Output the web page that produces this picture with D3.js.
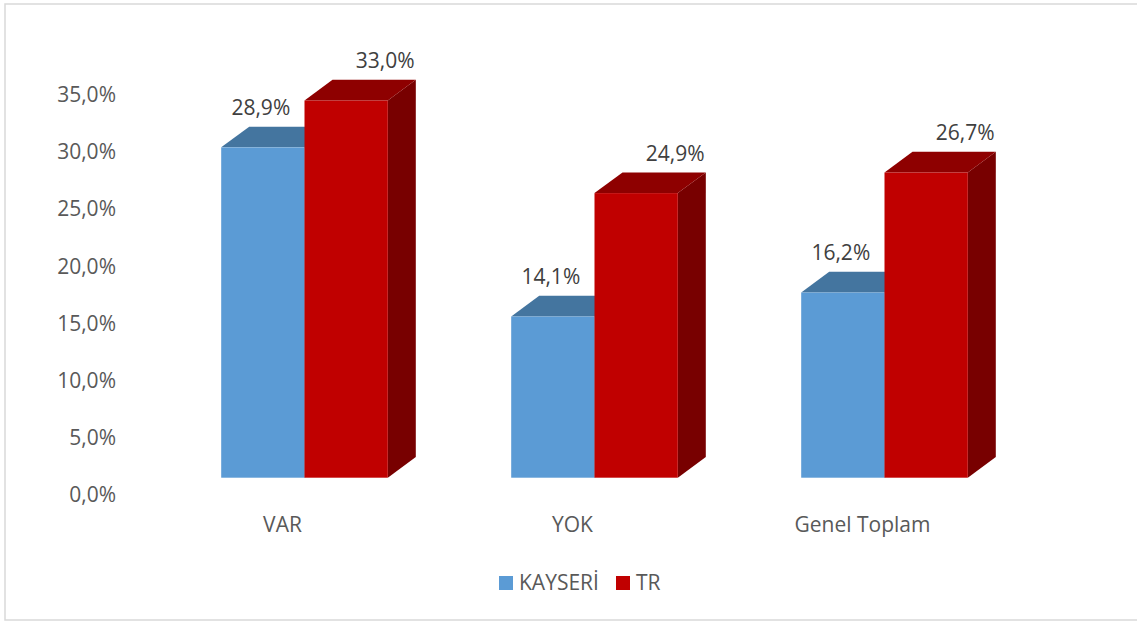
<!DOCTYPE html>
<html>
  <head>
    <meta charset="utf-8">
    <title>KAYSERİ - TR</title>
    <script src="https://d3js.org/d3.v7.min.js"></script>
    <style>
      body { margin: 0; background: #fff; }
      text { font-family: "Open Sans", sans-serif; fill: #595959; }
    </style>
  </head>
  <body>
    <div id="chart"></div>
    <script>
      // data
      var categories = ["VAR", "YOK", "Genel Toplam"];
      var series = ["KAYSERİ", "TR"];
      var kayseri = [28.9, 14.1, 16.2];
      var tr = [33.0, 24.9, 26.7];
      var yTicks = [0, 5, 10, 15, 20, 25, 30, 35];

      var width = 1137, height = 624;
      var barW = 83.3;           // front face width
      var depthX = 28, depthY = -20.7;  // 3d offset of the back face
      var fontSize = "21px";

      // colours: front, top, side
      var colors = {
        "KAYSERİ": ["#5b9bd5", "#44759f", "#3a6590"],
        "TR": ["#c00000", "#8e0000", "#780000"]
      };

      var svg = d3.select("#chart").append("svg")
        .attr("width", width)
        .attr("height", height);

      // chart border
      svg.append("rect")
        .attr("x", 5).attr("y", 4)
        .attr("width", 1133).attr("height", 616)
        .attr("fill", "none")
        .attr("stroke", "#d9d9d9")
        .attr("stroke-width", 1.5);

      var x0 = d3.scaleBand()
        .domain(categories)
        .range([159.5, 1029.5]);

      var x1 = d3.scaleBand()
        .domain(series)
        .range([0, 2 * barW]);

      var y = d3.scaleLinear()
        .domain([0, 35])
        .range([477.7, 477.7 - 35 * 11.43]);

      // y axis labels (excel puts them on the back wall, a bit lower)
      var yAxis = d3.axisLeft(y)
        .tickValues(yTicks)
        .tickSize(0)
        .tickPadding(0)
        .tickFormat(function(d) { return d.toFixed(1).replace(".", ",") + "%"; });

      var gy = svg.append("g")
        .attr("transform", "translate(116, 17.3)")
        .call(yAxis);
      gy.select(".domain").remove();
      gy.selectAll("text")
        .style("font-size", fontSize)
        .style("font-family", "'Open Sans', sans-serif")
        .attr("fill", "#595959");

      // category labels
      svg.selectAll(".cat")
        .data(categories)
        .enter()
        .append("text")
        .attr("class", "cat")
        .attr("x", function(d) { return x0(d) + x0.bandwidth() / 2 - 22; })
        .attr("y", 525)
        .attr("dy", "0.35em")
        .attr("text-anchor", "middle")
        .style("font-size", fontSize)
        .text(function(d) { return d; });

      var rows = [];
      categories.forEach(function(c, i) {
        rows.push({ cat: c, s: "KAYSERİ", v: kayseri[i] });
        rows.push({ cat: c, s: "TR", v: tr[i] });
      });

      function left(d) {
        return x0(d.cat) + (x0.bandwidth() - 2 * barW) / 2 + x1(d.s);
      }

      var bars = svg.selectAll(".bar")
        .data(rows)
        .enter()
        .append("g")
        .attr("class", "bar");

      // right side
      bars.append("path")
        .attr("fill", function(d) { return colors[d.s][2]; })
        .attr("d", function(d) {
          var x = left(d) + barW, yt = y(d.v), yb = y(0);
          return "M" + x + "," + yt + "L" + (x + depthX) + "," + (yt + depthY) +
            "L" + (x + depthX) + "," + (yb + depthY) + "L" + x + "," + yb + "Z";
        });

      // top
      bars.append("path")
        .attr("fill", function(d) { return colors[d.s][1]; })
        .attr("d", function(d) {
          var x = left(d), yt = y(d.v);
          return "M" + x + "," + yt + "L" + (x + depthX) + "," + (yt + depthY) +
            "L" + (x + barW + depthX) + "," + (yt + depthY) + "L" + (x + barW) + "," + yt + "Z";
        });

      // front
      bars.append("rect")
        .attr("fill", function(d) { return colors[d.s][0]; })
        .attr("x", left)
        .attr("y", function(d) { return y(d.v); })
        .attr("width", barW)
        .attr("height", function(d) { return y(0) - y(d.v); });

      // value labels
      bars.append("text")
        .attr("x", function(d) {
          return d.s === "TR" ? left(d) + barW / 2 + depthX + 11 : left(d) + barW / 2 - 2;
        })
        .attr("y", function(d) { return y(d.v) + depthY - 19; })
        .attr("dy", "0.35em")
        .attr("text-anchor", "middle")
        .style("font-size", fontSize)
        .style("fill", "#404040")
        .text(function(d) { return d.v.toFixed(1).replace(".", ",") + "%"; });

      // legend
      var legend = svg.append("g").attr("class", "legend");
      var legX = [499, 616];
      series.forEach(function(s, i) {
        legend.append("rect")
          .attr("x", legX[i]).attr("y", 576)
          .attr("width", 14).attr("height", 14)
          .attr("fill", colors[s][0]);
        legend.append("text")
          .attr("x", legX[i] + 20).attr("y", 583)
          .attr("dy", "0.35em")
          .style("font-size", fontSize)
          .text(s);
      });
    </script>
  </body>
</html>
